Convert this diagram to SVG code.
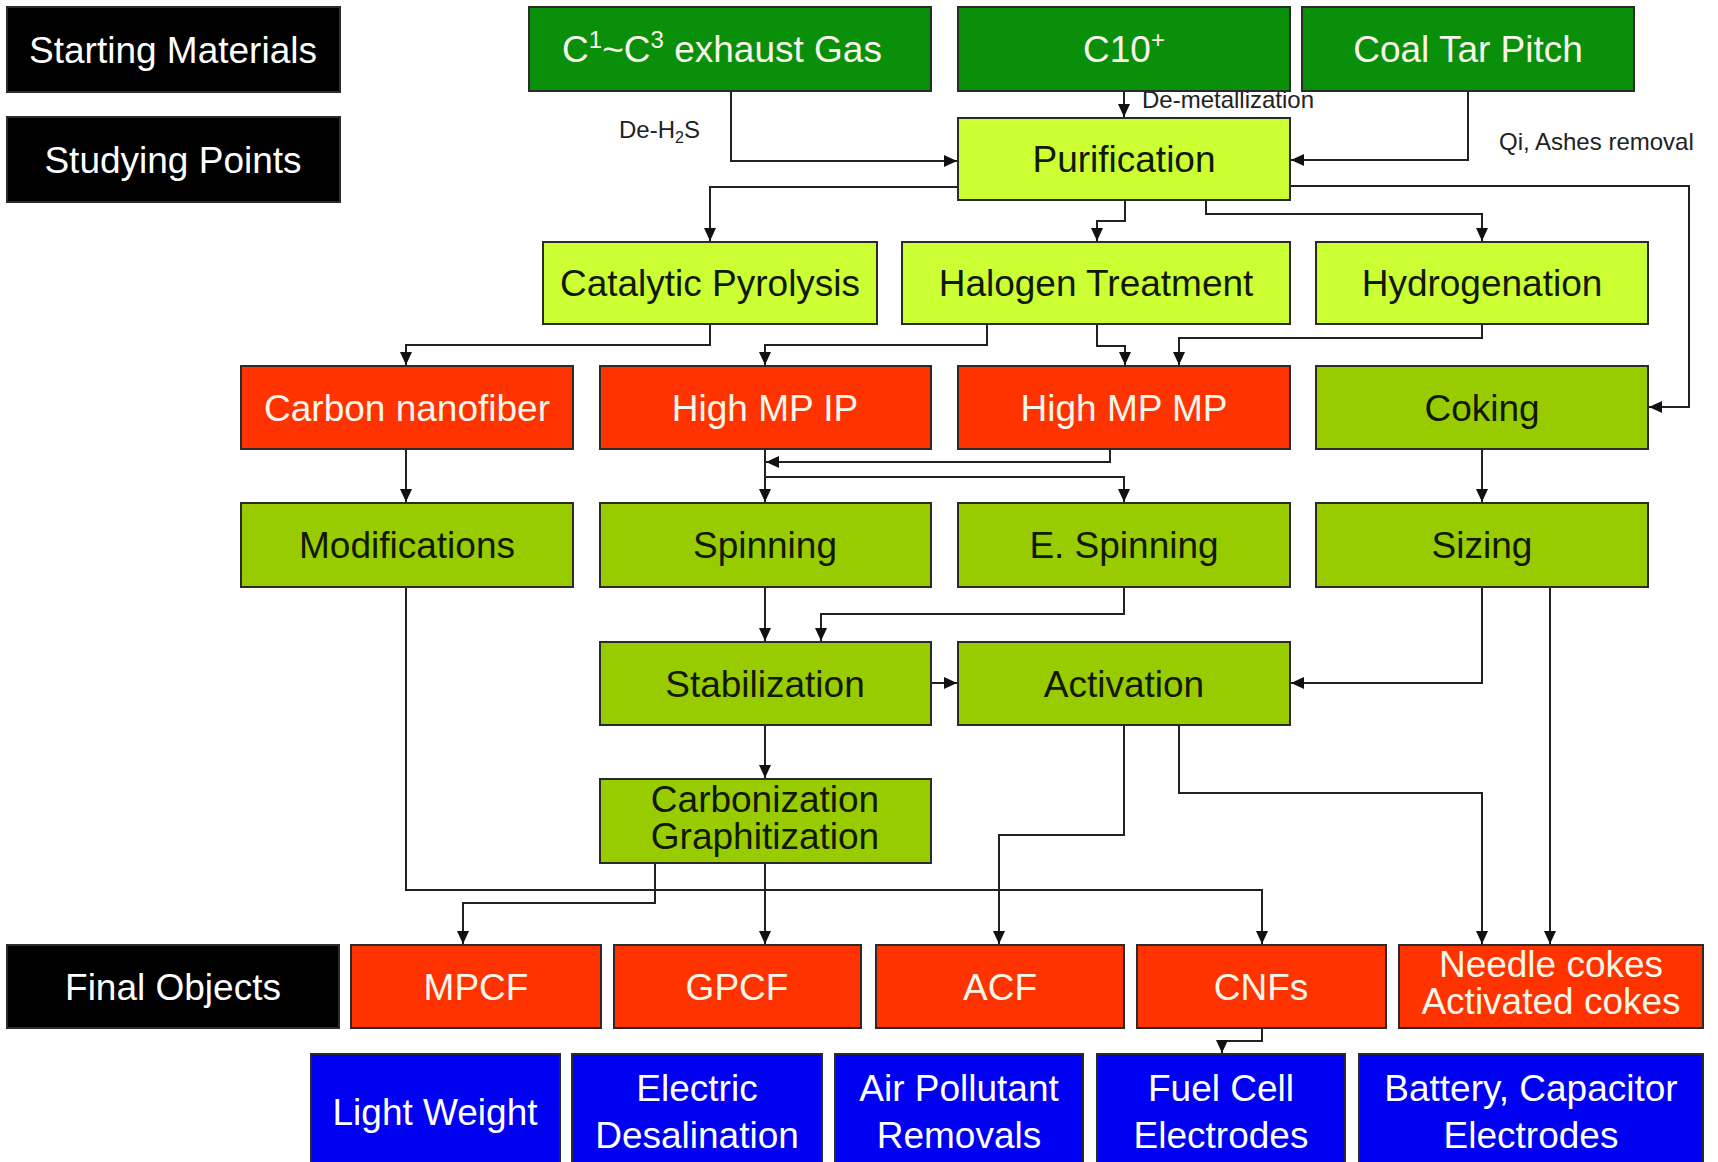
<svg xmlns="http://www.w3.org/2000/svg" width="1718" height="1162" viewBox="0 0 1718 1162">
<defs>
<style>
.box{stroke:#2b2b2b;stroke-width:2}
.blk{fill:#000000}
.dg{fill:#0a8f0a}
.lg{fill:#ccff33}
.og{fill:#99cc00}
.rd{fill:#ff3300}
.bl{fill:#0000f2}
text{font-family:"Liberation Sans",Arial,sans-serif;font-size:37px;text-anchor:middle}
.tw{fill:#f8f6ea}
.td{fill:#111a00}
.tb{fill:#ffffff}
.sm{font-size:24px;fill:#222;text-anchor:start}
.cn{fill:none;stroke:#222;stroke-width:2}
</style>
<marker id="ah" markerUnits="userSpaceOnUse" markerWidth="13" markerHeight="12" refX="13" refY="6" orient="auto">
<path d="M0,0 L13,6 L0,12 z" fill="#111"/>
</marker>
</defs>
<rect x="0" y="0" width="1718" height="1162" fill="#ffffff"/>

<g id="connectors" class="cn" marker-end="url(#ah)">
<path d="M731,91 V161 H957"/>
<path d="M1124,91 V117"/>
<path d="M1468,91 V160 H1291"/>
<path d="M958,187 H710 V241"/>
<path d="M1125,200 V221 H1097 V241"/>
<path d="M1206,200 V214 H1482 V241"/>
<path d="M1290,186 H1689 V407 H1649"/>
<path d="M710,324 V345 H406 V365"/>
<path d="M987,324 V345 H765 V365"/>
<path d="M1097,324 V346 H1125 V365"/>
<path d="M1482,324 V338 H1179 V365"/>
<path d="M406,449 V502"/>
<path d="M765,449 V502"/>
<path d="M1110,449 V462 H766"/>
<path d="M765,477 H1124 V502"/>
<path d="M1482,449 V502"/>
<path d="M765,587 V641"/>
<path d="M1124,587 V614 H821 V641"/>
<path d="M931,683 H957"/>
<path d="M1482,587 V683 H1291"/>
<path d="M765,725 V778"/>
<path d="M406,587 V890 H1262 V944"/>
<path d="M655,863 V903 H463 V944"/>
<path d="M765,863 V944"/>
<path d="M1124,725 V835 H999 V944"/>
<path d="M1179,725 V793 H1482 V944"/>
<path d="M1550,587 V944"/>
<path d="M1262,1028 V1041 H1222 V1053"/>
</g>

<g id="labels">
<text class="sm" x="619" y="138">De-H<tspan font-size="16" dy="5">2</tspan><tspan dy="-5">S</tspan></text>
<text class="sm" x="1142" y="108">De-metallization</text>
<text class="sm" x="1499" y="150">Qi, Ashes removal</text>
</g>

<g id="starting-materials"><rect class="box blk" x="7" y="7" width="333" height="85"/><text class="tb" x="173" y="63">Starting Materials</text></g>
<g id="studying-points"><rect class="box blk" x="7" y="117" width="333" height="85"/><text class="tb" x="173" y="173">Studying Points</text></g>
<g id="final-objects"><rect class="box blk" x="7" y="945" width="332" height="83"/><text class="tb" x="173" y="1000">Final Objects</text></g>

<g id="c1c3-gas"><rect class="box dg" x="529" y="7" width="402" height="84"/><text class="tw" x="722" y="62">C<tspan font-size="24" dy="-14">1</tspan><tspan dy="14">~C</tspan><tspan font-size="24" dy="-14">3</tspan><tspan dy="14"> exhaust Gas</tspan></text></g>
<g id="c10"><rect class="box dg" x="958" y="7" width="332" height="84"/><text class="tw" x="1124" y="62">C10<tspan font-size="24" dy="-14">+</tspan></text></g>
<g id="coal-tar-pitch"><rect class="box dg" x="1302" y="7" width="332" height="84"/><text class="tw" x="1468" y="62">Coal Tar Pitch</text></g>

<g id="purification"><rect class="box lg" x="958" y="118" width="332" height="82"/><text class="td" x="1124" y="172">Purification</text></g>

<g id="catalytic-pyrolysis"><rect class="box lg" x="543" y="242" width="334" height="82"/><text class="td" x="710" y="296">Catalytic Pyrolysis</text></g>
<g id="halogen-treatment"><rect class="box lg" x="902" y="242" width="388" height="82"/><text class="td" x="1096" y="296">Halogen Treatment</text></g>
<g id="hydrogenation"><rect class="box lg" x="1316" y="242" width="332" height="82"/><text class="td" x="1482" y="296">Hydrogenation</text></g>

<g id="carbon-nanofiber"><rect class="box rd" x="241" y="366" width="332" height="83"/><text class="tw" x="407" y="421">Carbon nanofiber</text></g>
<g id="high-mp-ip"><rect class="box rd" x="600" y="366" width="331" height="83"/><text class="tw" x="765" y="421">High MP IP</text></g>
<g id="high-mp-mp"><rect class="box rd" x="958" y="366" width="332" height="83"/><text class="tw" x="1124" y="421">High MP MP</text></g>
<g id="coking"><rect class="box og" x="1316" y="366" width="332" height="83"/><text class="td" x="1482" y="421">Coking</text></g>

<g id="modifications"><rect class="box og" x="241" y="503" width="332" height="84"/><text class="td" x="407" y="558">Modifications</text></g>
<g id="spinning"><rect class="box og" x="600" y="503" width="331" height="84"/><text class="td" x="765" y="558">Spinning</text></g>
<g id="e-spinning"><rect class="box og" x="958" y="503" width="332" height="84"/><text class="td" x="1124" y="558">E. Spinning</text></g>
<g id="sizing"><rect class="box og" x="1316" y="503" width="332" height="84"/><text class="td" x="1482" y="558">Sizing</text></g>

<g id="stabilization"><rect class="box og" x="600" y="642" width="331" height="83"/><text class="td" x="765" y="697">Stabilization</text></g>
<g id="activation"><rect class="box og" x="958" y="642" width="332" height="83"/><text class="td" x="1124" y="697">Activation</text></g>

<g id="carbonization-graphitization"><rect class="box og" x="600" y="779" width="331" height="84"/><text class="td" x="765" y="812">Carbonization</text><text class="td" x="765" y="849">Graphitization</text></g>

<g id="mpcf"><rect class="box rd" x="351" y="945" width="250" height="83"/><text class="tw" x="476" y="1000">MPCF</text></g>
<g id="gpcf"><rect class="box rd" x="614" y="945" width="247" height="83"/><text class="tw" x="737" y="1000">GPCF</text></g>
<g id="acf"><rect class="box rd" x="876" y="945" width="248" height="83"/><text class="tw" x="1000" y="1000">ACF</text></g>
<g id="cnfs"><rect class="box rd" x="1137" y="945" width="249" height="83"/><text class="tw" x="1261" y="1000">CNFs</text></g>
<g id="cokes"><rect class="box rd" x="1399" y="945" width="304" height="83"/><text class="tw" x="1551" y="977">Needle cokes</text><text class="tw" x="1551" y="1014">Activated cokes</text></g>

<g id="light-weight"><rect class="box bl" x="311" y="1054" width="249" height="120"/><text class="tb" x="435" y="1125">Light Weight</text></g>
<g id="electric-desalination"><rect class="box bl" x="572" y="1054" width="250" height="120"/><text class="tb" x="697" y="1101">Electric</text><text class="tb" x="697" y="1148">Desalination</text></g>
<g id="air-pollutant"><rect class="box bl" x="835" y="1054" width="248" height="120"/><text class="tb" x="959" y="1101">Air Pollutant</text><text class="tb" x="959" y="1148">Removals</text></g>
<g id="fuel-cell"><rect class="box bl" x="1097" y="1054" width="248" height="120"/><text class="tb" x="1221" y="1101">Fuel Cell</text><text class="tb" x="1221" y="1148">Electrodes</text></g>
<g id="battery"><rect class="box bl" x="1359" y="1054" width="344" height="120"/><text class="tb" x="1531" y="1101">Battery, Capacitor</text><text class="tb" x="1531" y="1148">Electrodes</text></g>
</svg>
